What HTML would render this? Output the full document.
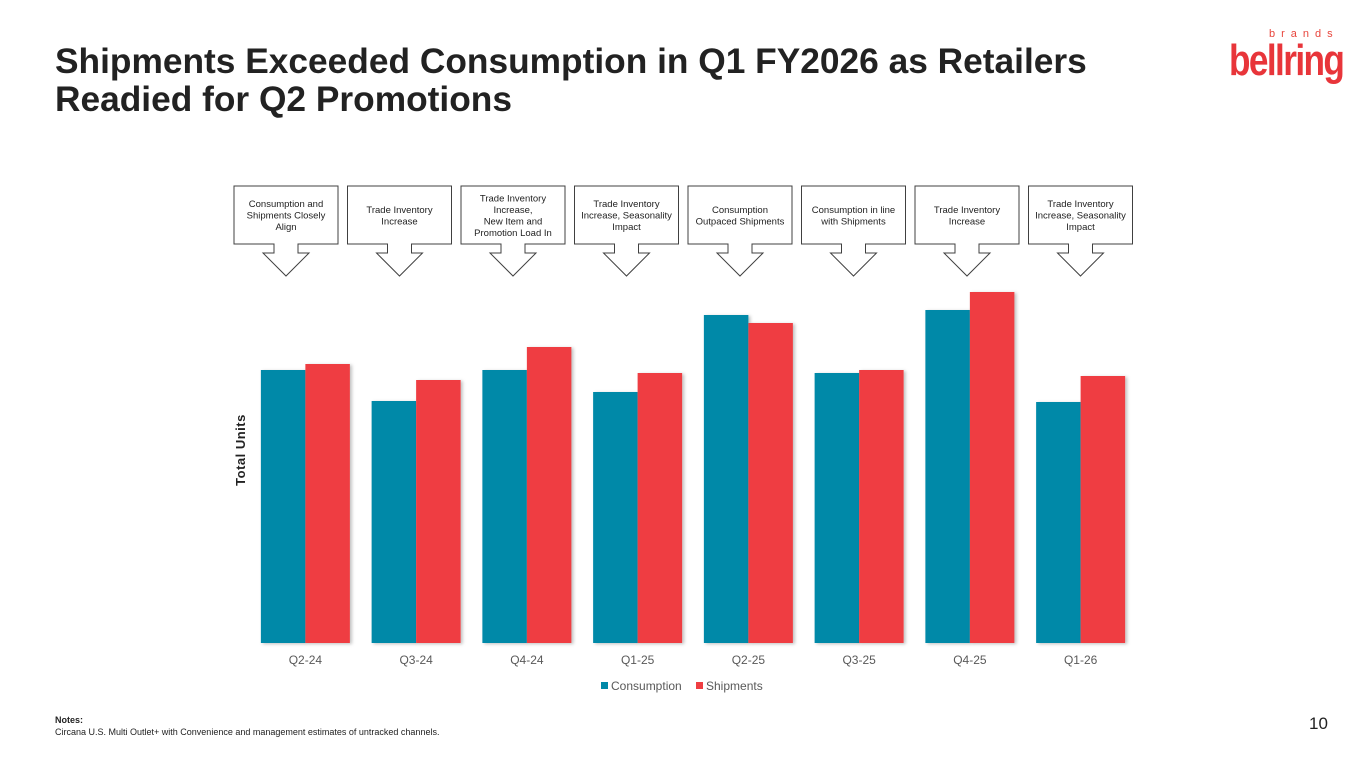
<!DOCTYPE html>
<html><head><meta charset="utf-8"><style>
body{margin:0;width:1365px;height:768px;background:#fff;font-family:"Liberation Sans",Arial,sans-serif;position:relative;overflow:hidden}
.t{position:absolute;left:55px;top:43px;font-size:35.3px;font-weight:bold;color:#222;line-height:38px}
</style></head><body>
<div class="t">Shipments Exceeded Consumption in Q1 FY2026 as Retailers<br>Readied for Q2 Promotions</div>
<div style="position:absolute;left:1229px;top:24px;width:110px;height:62px">
<div style="position:absolute;left:40px;top:4px;font-size:11px;letter-spacing:6px;color:#e8453c">brands</div>
<div style="position:absolute;left:0;top:12px;font-size:44px;font-weight:bold;color:#e8353a;letter-spacing:-2px;transform:scaleX(0.8);transform-origin:left">bellring</div>
</div>
<svg id="c" width="1365" height="768" style="position:absolute;left:0;top:0"></svg>
<div style="position:absolute;left:55px;top:714px;font-size:9px;color:#222;line-height:12px"><b>Notes:</b><br>Circana U.S. Multi Outlet+ with Convenience and management estimates of untracked channels.</div>
<div style="position:absolute;left:1309px;top:714px;font-size:17px;color:#222">10</div>
<script>
const categories=["Q2-24","Q3-24","Q4-24","Q1-25","Q2-25","Q3-25","Q4-25","Q1-26"];
const consumption=[273,242,273,251,328,270,333,241];
const shipments=[279,263,296,270,320,273,351,267];
const callouts=[["Consumption and","Shipments Closely","Align"],["Trade Inventory","Increase"],["Trade Inventory","Increase,","New Item and","Promotion Load In"],["Trade Inventory","Increase, Seasonality","Impact"],["Consumption","Outpaced Shipments"],["Consumption in line","with Shipments"],["Trade Inventory","Increase"],["Trade Inventory","Increase, Seasonality","Impact"]];
const NS="http://www.w3.org/2000/svg";
const svg=document.getElementById('c');
const x0=250,x1=1136,yB=643,yMax=400,H=400;
const bw=(x1-x0)/categories.length;
const y=v=>yB-v/yMax*H;
function mk(t,a,p){const e=document.createElementNS(NS,t);for(const k in a)e.setAttribute(k,a[k]);(p||svg).appendChild(e);return e;}
const defs=mk('defs',{});
defs.innerHTML='<filter id="sh" x="-20%" y="-5%" width="150%" height="110%"><feDropShadow dx="2" dy="1" stdDeviation="1.5" flood-opacity="0.25"/></filter>';
categories.forEach((c,i)=>{
  const cx=x0+bw*(i+0.5), w=44.5;
  const b1=mk('rect',{x:cx-w,y:y(consumption[i]),width:w,height:yB-y(consumption[i]),fill:'#0089a8',filter:'url(#sh)'});
  
  
  const b2=mk('rect',{x:cx,y:y(shipments[i]),width:w,height:yB-y(shipments[i]),fill:'#ef3e42',filter:'url(#sh)'});
  
  
  const t=mk('text',{x:cx,y:664,'text-anchor':'middle','font-size':12,fill:'#595959'});t.textContent=c;
  
  
  const bx=286+i*113.5;
  const g=mk('g',{});
  
  
  mk('path',{d:`M${bx-52} 186H${bx+52}V244H${bx+12}V253H${bx+23}L${bx} 276L${bx-23} 253H${bx-12}V244H${bx-52}Z`,fill:'#fff',stroke:'#404040','stroke-width':1},g);
  const L=callouts[i],lh=11.5,sy=215-(L.length-1)*lh/2+3.5;
  L.forEach((s,j)=>{const tt=mk('text',{x:bx,y:sy+j*lh,'text-anchor':'middle','font-size':9.5,fill:'#222'},g);tt.textContent=s;});
});
const yt=mk('text',{x:0,y:0,transform:'translate(245,450) rotate(-90)','text-anchor':'middle','font-size':13,'font-weight':'bold',fill:'#222','letter-spacing':'0.5'});yt.textContent='Total Units';


const lg=mk('g',{});


mk('rect',{x:601,y:682,width:7,height:7,fill:'#0089a8'},lg);
let a=mk('text',{x:611,y:690,'font-size':12,fill:'#595959'},lg);a.textContent='Consumption';
mk('rect',{x:696,y:682,width:7,height:7,fill:'#ef3e42'},lg);
a=mk('text',{x:706,y:690,'font-size':12,fill:'#595959'},lg);a.textContent='Shipments';
</script>
</body></html>
